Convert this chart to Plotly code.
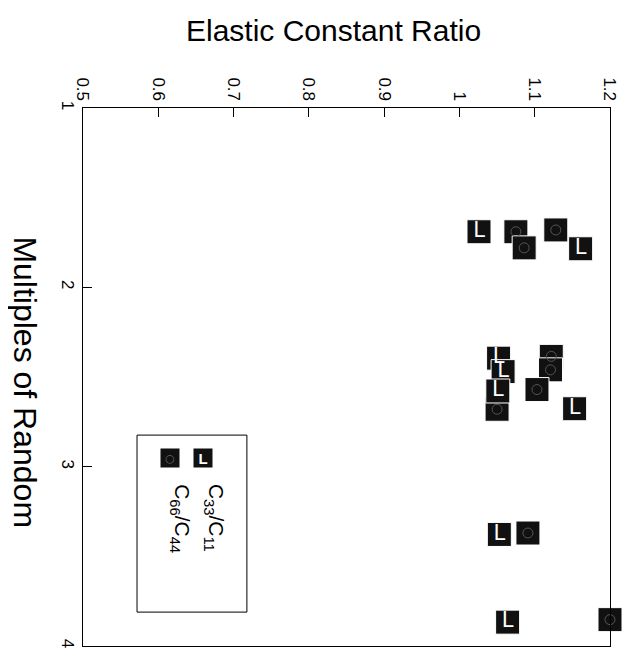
import plotly.graph_objects as go

# Elastic constant ratio (horizontal) vs multiples of random (vertical, downward)
c33_ratio = [1.026, 1.161, 1.052, 1.058, 1.051, 1.153, 1.053, 1.064]
c33_mult = [1.69, 1.785, 2.395, 2.47, 2.578, 2.677, 3.378, 3.867]
c66_ratio = [1.075, 1.086, 1.128, 1.050, 1.122, 1.121, 1.103, 1.091, 1.200]
c66_mult = [1.69, 1.78, 1.68, 2.68, 2.385, 2.46, 2.57, 3.37, 3.853]

ratio_ticks = [0.5, 0.6, 0.7, 0.8, 0.9, 1.0, 1.1, 1.2]
ratio_labels = ["0.5", "0.6", "0.7", "0.8", "0.9", "1", "1.1", "1.2"]
mult_ticks = [1, 2, 3, 4]
mult_labels = ["1", "2", "3", "4"]

FONT = "Liberation Sans, Arial, sans-serif"

fig = go.Figure()

# C66/C44: black squares with a faint circle inside
fig.add_trace(go.Scatter(
    x=c66_ratio, y=c66_mult, mode="markers", name="C66/C44",
    marker=dict(symbol="square", size=24, color="#111111",
                line=dict(color="white", width=1)),
    cliponaxis=False, showlegend=False))
fig.add_trace(go.Scatter(
    x=c66_ratio, y=c66_mult, mode="markers", showlegend=False,
    marker=dict(symbol="circle-open", size=10, color="#555555",
                line=dict(color="#555555", width=1)),
    cliponaxis=False, hoverinfo="skip"))

# C33/C11: black squares with a white "L"
fig.add_trace(go.Scatter(
    x=c33_ratio, y=c33_mult, mode="markers+text", name="C33/C11",
    text=["L"] * len(c33_ratio), textposition="middle center",
    textfont=dict(family="DejaVu Sans, sans-serif", size=21, color="white"),
    marker=dict(symbol="square", size=24, color="#111111",
                line=dict(color="white", width=1)),
    cliponaxis=False, showlegend=False))

# Legend box
fig.add_shape(type="rect", xref="paper", yref="paper",
              x0=0.1025, x1=0.311, y0=0.063, y1=0.392,
              line=dict(color="black", width=1), fillcolor="white", layer="below")

# legend glyphs
fig.add_annotation(xref="paper", yref="paper", x=0.209, y=0.349,
                   text="<b>L</b>", showarrow=False,
                   font=dict(family=FONT, size=15, color="white"),
                   bgcolor="#111111", width=18, height=18, borderpad=0)
fig.add_annotation(xref="paper", yref="paper", x=0.146, y=0.349,
                   text="○", showarrow=False,
                   font=dict(family="DejaVu Sans", size=11, color="#666666"),
                   bgcolor="#111111", width=18, height=18, borderpad=0)
# legend labels (rotated)
fig.add_annotation(xref="paper", yref="paper", x=0.222, y=0.305,
                   text="C<sub>33</sub>/C<sub>11</sub>", showarrow=False,
                   textangle=90, yanchor="top",
                   font=dict(family=FONT, size=21, color="black"))
fig.add_annotation(xref="paper", yref="paper", x=0.156, y=0.305,
                   text="C<sub>66</sub>/C<sub>44</sub>", showarrow=False,
                   textangle=90, yanchor="top",
                   font=dict(family=FONT, size=21, color="black"))

# Axis titles
fig.add_annotation(xref="paper", yref="paper", x=0.476, y=1.0, yshift=78,
                   yanchor="middle",
                   text="Elastic Constant Ratio", showarrow=False,
                   font=dict(family=FONT, size=30, color="black"))
fig.add_annotation(xref="paper", yref="paper", x=0.0, xshift=-58, y=0.49,
                   xanchor="center", yanchor="middle",
                   text="Multiples of Random", showarrow=False, textangle=90,
                   font=dict(family=FONT, size=32, color="black"))

fig.update_layout(
    width=635, height=660,
    margin=dict(l=75, r=33, t=100, b=22, autoexpand=False),
    paper_bgcolor="white", plot_bgcolor="white",
    font=dict(family=FONT, size=17, color="black"),
    xaxis=dict(side="top", range=[0.5, 1.2], tickvals=ratio_ticks,
               ticktext=ratio_labels, tickangle=90, ticks="inside",
               ticklen=9, tickcolor="black", showgrid=False, zeroline=False,
               showline=True, linecolor="black", linewidth=1, mirror=True,
               automargin=False, tickfont=dict(size=17)),
    yaxis=dict(range=[4, 1], tickvals=mult_ticks, ticktext=mult_labels,
               tickangle=90, ticks="inside", ticklen=9, tickcolor="black",
               showgrid=False, zeroline=False, showline=True,
               linecolor="black", linewidth=1, mirror=True,
               automargin=False, tickfont=dict(size=17)),
)

fig.write_html("out.html")
